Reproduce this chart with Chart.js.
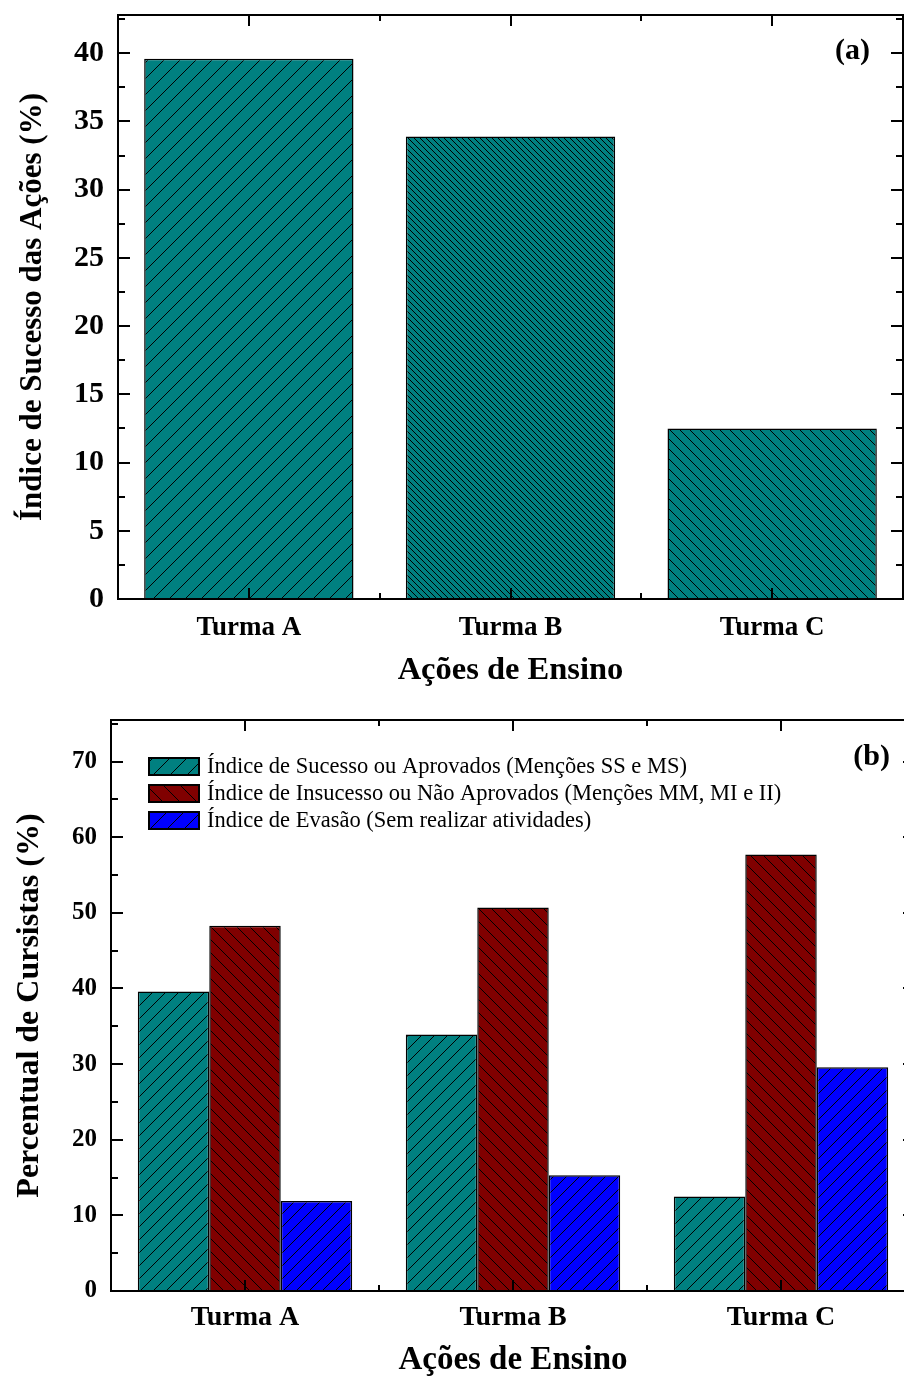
<!DOCTYPE html>
<html>
<head>
<meta charset="utf-8">
<script src="https://cdn.jsdelivr.net/npm/chart.js@4"></script>
<style>
  html, body { margin: 0; padding: 0; background: #fff; overflow: hidden; }
  #wrapA { position: absolute; left: 0; top: 0; width: 904px; height: 690px; }
  #wrapB { position: absolute; left: 0; top: 690px; width: 925px; height: 690px; }
</style>
</head>
<body>
<div id="wrapA"><canvas id="chartA" width="904" height="690"></canvas></div>
<div id="wrapB"><canvas id="chartB" width="925" height="690"></canvas></div>
<script>
// data
const turmas = ['Turma A', 'Turma B', 'Turma C'];
const sucesso = [39.6, 33.9, 12.5];
const insucesso = [48.3, 50.7, 57.7];
const evasao = [11.9, 15.3, 29.6];
const seriesLabels = [
    'Índice de Sucesso ou Aprovados (Menções SS e MS)',
    'Índice de Insucesso ou Não Aprovados (Menções MM, MI e II)',
    'Índice de Evasão (Sem realizar atividades)'
];
const yTicksA = [0, 5, 10, 15, 20, 25, 30, 35, 40];
const yTicksB = [0, 10, 20, 30, 40, 50, 60, 70];

const SERIF = "'Liberation Serif', 'Times New Roman', serif";
Chart.defaults.color = '#000';
Chart.defaults.font.family = SERIF;

// diagonal hatch fill
function hatch(color, gap, dir) {
    const c = document.createElement('canvas');
    c.width = gap; c.height = gap;
    const g = c.getContext('2d');
    g.fillStyle = color;
    g.fillRect(0, 0, gap, gap);
    g.strokeStyle = '#000';
    g.lineWidth = 1;
    g.beginPath();
    if (dir === '/') {
        g.moveTo(0, gap); g.lineTo(gap, 0);
        g.moveTo(-gap, gap); g.lineTo(gap, -gap);
        g.moveTo(0, 2 * gap); g.lineTo(2 * gap, 0);
    } else {
        g.moveTo(0, 0); g.lineTo(gap, gap);
        g.moveTo(-gap, 0); g.lineTo(gap, 2 * gap);
        g.moveTo(0, -gap); g.lineTo(2 * gap, gap);
    }
    g.stroke();
    return g.createPattern(c, 'repeat');
}

const TEAL = '#008080', WINE = '#800000', BLUE = '#0000ff';

// frame + inward ticks on all four sides, plus panel letter
function frameTicks(letter, step, lx, ly) {
    return {
        id: 'frameTicks',
        afterDraw(chart) {
            const ctx = chart.ctx;
            const a = chart.chartArea;
            const ys = chart.scales.y, xs = chart.scales.x;
            ctx.save();
            ctx.strokeStyle = '#000';
            ctx.lineWidth = 2;
            ctx.strokeRect(a.left, a.top, a.right - a.left, a.bottom - a.top);
            ctx.beginPath();
            for (let v = 0; v <= ys.max + 1e-6; v += step / 2) {
                const y = Math.round(ys.getPixelForValue(v));
                const major = Math.abs(v / step - Math.round(v / step)) < 1e-6;
                const len = major ? 12 : 7;
                ctx.moveTo(a.left, y); ctx.lineTo(a.left + len, y);
                ctx.moveTo(a.right, y); ctx.lineTo(a.right - len, y);
            }
            const n = xs.ticks.length;
            for (let i = 0; i < n; i++) {
                const x = Math.round(xs.getPixelForTick(i));
                ctx.moveTo(x, a.bottom); ctx.lineTo(x, a.bottom - 11);
                ctx.moveTo(x, a.top); ctx.lineTo(x, a.top + 11);
                if (i < n - 1) {
                    const m = Math.round((xs.getPixelForTick(i) + xs.getPixelForTick(i + 1)) / 2);
                    ctx.moveTo(m, a.bottom); ctx.lineTo(m, a.bottom - 6);
                    ctx.moveTo(m, a.top); ctx.lineTo(m, a.top + 6);
                }
            }
            ctx.stroke();
            ctx.font = 'bold 30px ' + SERIF;
            ctx.fillStyle = '#000';
            ctx.textAlign = 'right';
            ctx.textBaseline = 'middle';
            ctx.fillText(letter, a.right - lx, a.top + ly);
            ctx.restore();
        }
    };
}

// legend drawn inside the plot area of chart (b)
const innerLegend = {
    id: 'innerLegend',
    afterDraw(chart) {
        const ctx = chart.ctx;
        const a = chart.chartArea;
        ctx.save();
        ctx.font = '22.5px ' + SERIF;
        ctx.textBaseline = 'middle';
        ctx.textAlign = 'left';
        chart.data.datasets.forEach((ds, i) => {
            const bx = a.left + 38, cy = a.top + 46 + i * 27;
            ctx.fillStyle = ds.legendFill;
            ctx.fillRect(bx, cy - 8, 50, 17);
            ctx.strokeStyle = '#000';
            ctx.lineWidth = 2;
            ctx.strokeRect(bx, cy - 8, 50, 17);
            ctx.fillStyle = '#000';
            ctx.fillText(ds.label, bx + 58, cy + 1);
        });
        ctx.restore();
    }
};

function axisOpts(yTicks, yMax, yLabel, yWidth, xHeight, sz) {
    return {
        x: {
            grid: { display: false },
            border: { display: false },
            ticks: { padding: sz.xPad, font: { size: sz.xTick, weight: 'bold' } },
            title: { display: true, text: 'Ações de Ensino', font: { size: sz.title, weight: 'bold' }, padding: 0 },
            afterFit: s => { s.height = xHeight; }
        },
        y: {
            min: 0,
            max: yMax,
            grid: { display: false },
            border: { display: false },
            ticks: { padding: sz.yPad, font: { size: sz.yTick, weight: 'bold' } },
            afterBuildTicks: s => { s.ticks = yTicks.map(v => ({ value: v })); },
            title: { display: true, text: yLabel, font: { size: sz.yTitle, weight: 'bold' }, padding: { top: sz.yTitlePad, bottom: 0 } },
            afterFit: s => { s.width = yWidth; s.paddingTop = 0; s.paddingBottom = 0; }
        }
    };
}

new Chart(document.getElementById('chartA'), {
    type: 'bar',
    data: {
        labels: turmas,
        datasets: [{
            label: seriesLabels[0],
            data: sucesso,
            backgroundColor: [hatch(TEAL, 16, '/'), hatch(TEAL, 6, '\\'), hatch(TEAL, 10, '\\')],
            borderColor: '#000',
            borderWidth: 1.5,
            categoryPercentage: 0.8,
            barPercentage: 1
        }]
    },
    options: {
        responsive: false,
        animation: false,
        layout: { padding: { top: 15, right: 1, left: 0, bottom: 0 } },
        plugins: { legend: { display: false }, tooltip: { enabled: false } },
        scales: axisOpts(yTicksA, 42.8, 'Índice de Sucesso das Ações (%)', 118, 91,
            { xTick: 27, xPad: 5, title: 32.5, yTick: 30, yPad: 6, yTitle: 31, yTitlePad: 14 })
    },
    plugins: [frameTicks('(a)', 5, 33, 36)]
});

const tealB = hatch(TEAL, 13, '/'), wineB = hatch(WINE, 13, '\\'), blueB = hatch(BLUE, 13, '/');
new Chart(document.getElementById('chartB'), {
    type: 'bar',
    data: {
        labels: turmas,
        datasets: [
            { label: seriesLabels[0], data: sucesso, backgroundColor: tealB, legendFill: hatch(TEAL, 17, '/') },
            { label: seriesLabels[1], data: insucesso, backgroundColor: wineB, legendFill: hatch(WINE, 17, '\\') },
            { label: seriesLabels[2], data: evasao, backgroundColor: blueB, legendFill: hatch(BLUE, 17, '/') }
        ].map(d => Object.assign(d, { borderColor: '#000', borderWidth: 1.5, categoryPercentage: 0.8, barPercentage: 1 }))
    },
    options: {
        responsive: false,
        animation: false,
        layout: { padding: { top: 30, right: 10, left: 0, bottom: 0 } },
        plugins: { legend: { display: false }, tooltip: { enabled: false } },
        scales: axisOpts(yTicksB, 75.5, 'Percentual de Cursistas (%)', 111, 89,
            { xTick: 28, xPad: 2, title: 33, yTick: 25, yPad: 6, yTitle: 32, yTitlePad: 11 })
    },
    plugins: [frameTicks('(b)', 10, 25, 37), innerLegend]
});
</script>
</body>
</html>
